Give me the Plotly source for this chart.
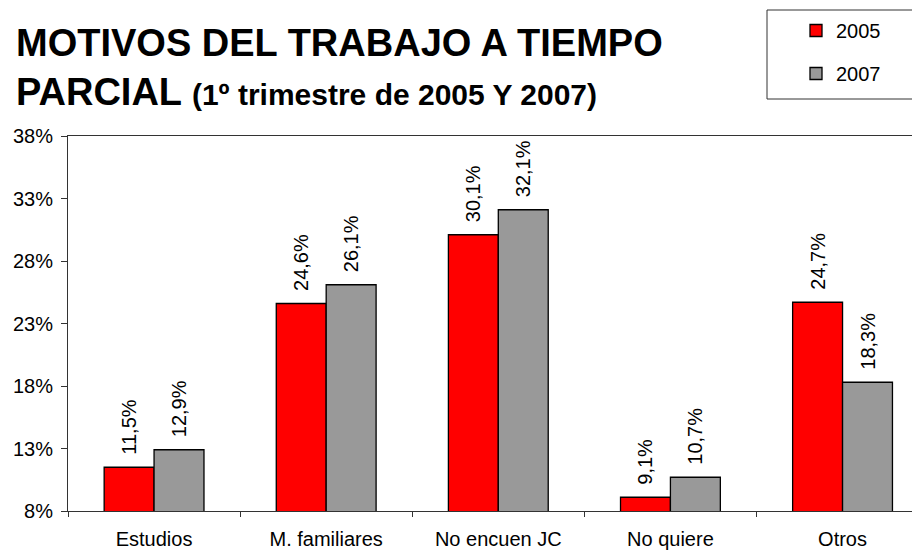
import plotly.graph_objects as go

categories = ["Estudios", "M. familiares", "No encuen JC", "No quiere", "Otros"]
values_2005 = [11.5, 24.6, 30.1, 9.1, 24.7]
values_2007 = [12.9, 26.1, 32.1, 10.7, 18.3]
series_names = ["2005", "2007"]
y_ticks = [8, 13, 18, 23, 28, 33, 38]
y_tick_labels = ["8%", "13%", "18%", "23%", "28%", "33%", "38%"]

FONT = "Liberation Sans, Arial, sans-serif"
RED = "#FF0000"
GREY = "#999999"
AXIS = "#333333"


def fmt(v):
    return "\u00a0\u2009" + f"{v:.1f}".replace(".", ",") + "%"


# page is shown with an 8px body margin; screen -> paper helpers
def px(sx):
    return (sx - 68) / 852


def py(sy):
    return (511 - sy) / 375


fig = go.Figure()
for name, vals, col, grp in [(series_names[0], values_2005, RED, "a"),
                             (series_names[1], values_2007, GREY, "b")]:
    fig.add_trace(go.Bar(
        x=categories, y=vals, name=name, legendgroup=grp,
        marker=dict(color=col, line=dict(color="black", width=1.3)),
        text=[fmt(v) for v in vals], textposition="outside", textangle=-90,
        textfont=dict(family=FONT, size=20, color="black"),
        constraintext="none", cliponaxis=False,
    ))

fig.update_layout(
    width=912, height=542,
    margin=dict(l=60, r=0, t=128, b=39),
    paper_bgcolor="white", plot_bgcolor="white",
    barmode="group", bargap=0.42, bargroupgap=0,
    font=dict(family=FONT, size=20, color="black"),
    title=dict(
        text="<b>MOTIVOS DEL TRABAJO A TIEMPO<br>PARCIAL <span style='font-size:30px'>(1º trimestre de 2005 Y 2007)</span></b>",
        font=dict(family=FONT, size=38, color="black"),
        x=8 / 912, xanchor="left", xref="container",
        y=0.912, yanchor="top", yref="container",
    ),
    showlegend=True,
    legend=dict(
        x=px(796), xanchor="left", y=py(11), yanchor="top",
        bgcolor="rgba(0,0,0,0)", borderwidth=0,
        font=dict(family=FONT, size=20, color="black"),
        traceorder="grouped", tracegroupgap=14, itemwidth=30,
    ),
    shapes=[dict(type="rect", xref="paper", yref="paper",
                 x0=px(767), x1=1.3, y0=py(99), y1=py(10),
                 line=dict(color=AXIS, width=1), fillcolor="rgba(0,0,0,0)")],
    xaxis=dict(
        type="category", range=[-0.5, 4.45],
        showline=True, linecolor=AXIS, linewidth=1, mirror=True,
        ticks="outside", tickson="boundaries", ticklen=5, tickcolor=AXIS,
        showgrid=False, zeroline=False, ticklabelstandoff=10,
        tickfont=dict(family=FONT, size=20, color="black"),
    ),
    yaxis=dict(
        range=[8, 38], tickvals=y_ticks, ticktext=y_tick_labels,
        showline=True, linecolor=AXIS, linewidth=1,
        ticks="outside", ticklen=6, tickcolor=AXIS, ticklabelstandoff=4,
        showgrid=False, zeroline=False,
        tickfont=dict(family=FONT, size=20, color="black"),
    ),
)

fig.write_html("out.html")
